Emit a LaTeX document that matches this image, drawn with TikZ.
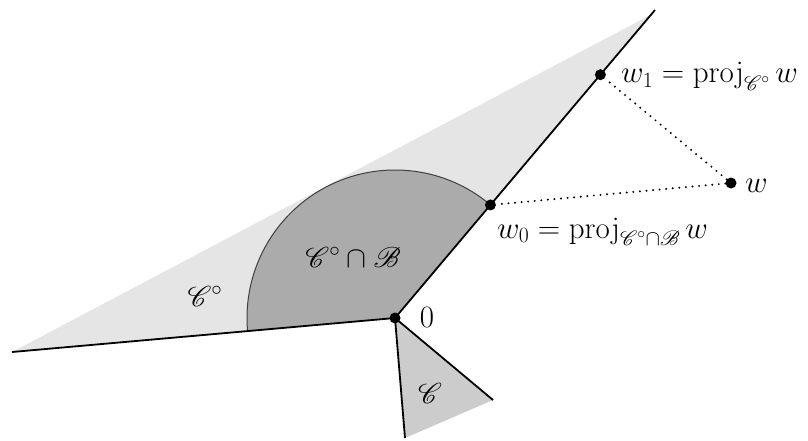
\RequirePackage{fix-cm}
\documentclass[tikz,border=0pt]{standalone}
\usepackage{graphicx}
\usepackage{mathrsfs}
\usetikzlibrary{calc}
\begin{document}
\begin{tikzpicture}[x=1pt,y=-1pt,
  edge/.style={line width=1.8pt, black},
  arcline/.style={line width=1pt, black!75},
  dotline/.style={line width=2.2pt, dash pattern=on 0pt off 6.6pt, line cap=round},
  pt/.style={circle, fill=black, inner sep=0pt, minimum size=11pt},
  lbl/.style={font=\fontsize{31}{36}\selectfont, inner sep=0pt},
  reg/.style={font=\fontsize{26}{30}\selectfont, inner sep=0pt}]
\useasboundingbox (0,0) rectangle (808,441);
\coordinate (O) at (395,318);
\coordinate (L) at (12,352);
\coordinate (U) at (655,10);
\coordinate (G) at ($(O)!0.985!(U)$);
\coordinate (C1) at (405,438);
\coordinate (C2) at (493,400);
% polar cone
\fill[black!10] (L) -- (G) -- (O) -- cycle;
% sector
\fill[black!33] (O) -- +(-49.8:148) arc[start angle=-49.8, end angle=-185.1, radius=148] -- cycle;
\draw[arcline] (O) ++(-49.8:148) arc[start angle=-49.8, end angle=-185.1, radius=148];
% cone C
\fill[black!20] (O) -- (C1) -- (C2) -- cycle;
\draw[edge] (C1) -- (O) -- (C2);
\draw[edge] (L) -- (O) -- (U);
% points
\node[pt] (o) at (O) {};
\node[pt] (w0) at ($(O)!0.367!(U)$) {};
\node[pt] (w1) at ($(O)!0.79!(U)$) {};
\node[pt] (w) at (731,183) {};
\draw[dotline] (w) -- (w1);
\draw[dotline] (w) -- (w0);
% labels
\node[lbl] (l0) at (427,318) {$0$};
\node[lbl, anchor=base west] (lw) at (745,192) {$w$};
\node[lbl, anchor=base west] (lw1) at (621,83) {$w_1=\mathrm{proj}_{\mathscr{C}^\circ}\,w$};
\node[lbl, anchor=base west] (lw0) at (497,238) {$w_0=\mathrm{proj}_{\mathscr{C}^\circ\cap\mathscr{B}}\,w$};
\node[reg] (lc) at (430,393) {\scalebox{1.15}{$\mathscr{C}$}};
\node[reg] (lcp) at (205,296) {\scalebox{1.15}{$\mathscr{C}^\circ$}};
\node[reg] (lcb) at (353,257) {\scalebox{1.15}{$\mathscr{C}^\circ\cap\mathscr{B}$}};
\end{tikzpicture}
\end{document}
